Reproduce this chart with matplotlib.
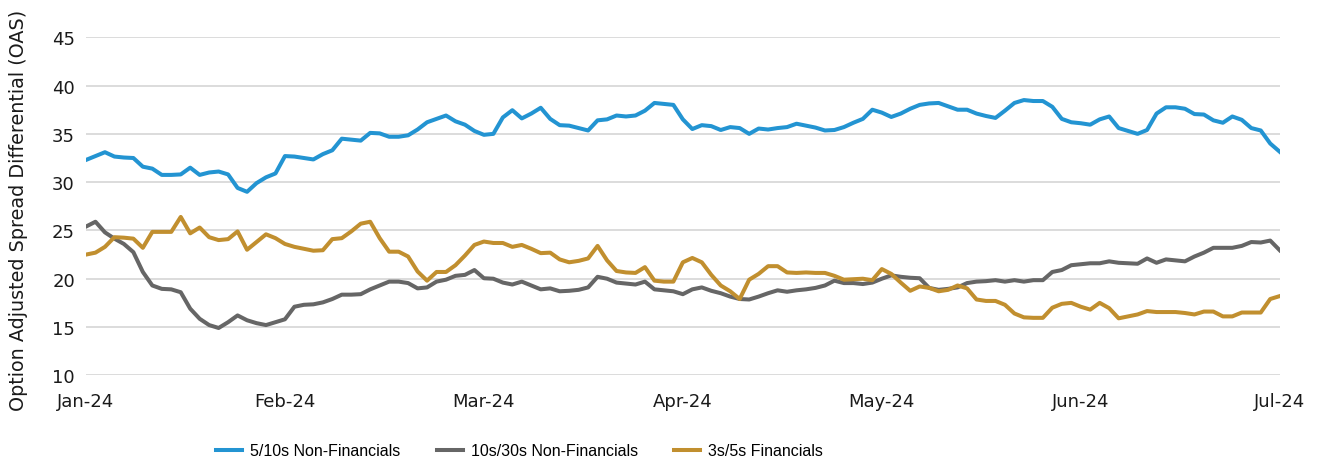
import numpy as np
import matplotlib
matplotlib.use('Agg')
import matplotlib.pyplot as plt

# meses (una etiqueta cada 21 dias habiles)
month_labels = ['Jan-24', 'Feb-24', 'Mar-24', 'Apr-24', 'May-24', 'Jun-24', 'Jul-24']
days_per_month = 21

nonfin_5_10 = [32.3, 32.7, 33.1, 32.65, 32.55, 32.5, 31.6, 31.4, 30.75, 30.75, 30.8, 31.5, 30.75, 31.0, 31.1, 30.8, 29.4, 29.0, 29.9, 30.5, 30.9, 32.7,
               32.65, 32.5, 32.35, 32.9, 33.3, 34.5, 34.4, 34.3, 35.1, 35.05, 34.7, 34.7, 34.85, 35.45, 36.2, 36.55, 36.9, 36.3, 35.95, 35.3, 34.9,
               35.0, 36.7, 37.45, 36.6, 37.1, 37.7, 36.55, 35.9, 35.85, 35.6, 35.35, 36.4, 36.5, 36.9, 36.8, 36.9, 37.4, 38.2, 38.1, 38.0, 36.5,
               35.5, 35.9, 35.8, 35.4, 35.7, 35.6, 35.0, 35.55, 35.45, 35.6, 35.7, 36.05, 35.85, 35.65, 35.35, 35.4, 35.7, 36.15, 36.55, 37.5, 37.2,
               36.75, 37.1, 37.6, 38.0, 38.15, 38.2, 37.85, 37.5, 37.5, 37.1, 36.85, 36.65, 37.4, 38.2, 38.5, 38.4, 38.4, 37.8, 36.55, 36.2, 36.1,
               35.95, 36.5, 36.8, 35.6, 35.3, 35.0, 35.4, 37.1, 37.75, 37.75, 37.6, 37.05, 37.0, 36.4, 36.15, 36.8, 36.45, 35.6, 35.35, 34.0, 33.15]

nonfin_10_30 = [25.4, 25.9, 24.8, 24.15, 23.6, 22.75, 20.7, 19.3, 18.95, 18.9, 18.6, 16.9, 15.85, 15.2, 14.9, 15.5, 16.2, 15.7, 15.4, 15.2, 15.5, 15.8,
                17.1, 17.3, 17.35, 17.55, 17.9, 18.35, 18.35, 18.4, 18.9, 19.3, 19.7, 19.7, 19.55, 19.0, 19.1, 19.7, 19.9, 20.3, 20.4, 20.9, 20.05,
                20.0, 19.6, 19.4, 19.7, 19.3, 18.9, 19.0, 18.7, 18.75, 18.85, 19.1, 20.2, 20.0, 19.6, 19.5, 19.4, 19.7, 18.9, 18.8, 18.7, 18.4,
                18.9, 19.1, 18.75, 18.5, 18.15, 17.9, 17.85, 18.15, 18.5, 18.8, 18.65, 18.8, 18.9, 19.05, 19.3, 19.8, 19.55, 19.55, 19.45, 19.6, 20.0,
                20.35, 20.2, 20.1, 20.05, 19.05, 18.85, 18.95, 19.1, 19.55, 19.7, 19.75, 19.85, 19.7, 19.85, 19.7, 19.85, 19.85, 20.7, 20.9, 21.4, 21.5,
                21.6, 21.6, 21.8, 21.65, 21.6, 21.55, 22.1, 21.65, 22.0, 21.9, 21.8, 22.3, 22.7, 23.2, 23.2, 23.2, 23.4, 23.8, 23.75, 23.95, 22.95]

fin_3_5 = [22.5, 22.7, 23.3, 24.3, 24.25, 24.15, 23.2, 24.85, 24.85, 24.85, 26.4, 24.7, 25.3, 24.3, 24.0, 24.1, 24.9, 23.0, 23.8, 24.6, 24.2, 23.6,
           23.3, 23.1, 22.9, 22.95, 24.1, 24.2, 24.9, 25.7, 25.9, 24.2, 22.8, 22.8, 22.3, 20.75, 19.8, 20.7, 20.7, 21.4, 22.4, 23.5, 23.85,
           23.7, 23.7, 23.3, 23.5, 23.1, 22.65, 22.7, 22.0, 21.7, 21.85, 22.1, 23.4, 21.9, 20.8, 20.65, 20.6, 21.2, 19.8, 19.7, 19.7, 21.7,
           22.15, 21.7, 20.4, 19.3, 18.7, 17.9, 19.9, 20.5, 21.3, 21.3, 20.65, 20.6, 20.65, 20.6, 20.6, 20.3, 19.9, 19.95, 20.0, 19.85, 21.0,
           20.5, 19.6, 18.75, 19.2, 19.05, 18.7, 18.85, 19.3, 19.0, 17.85, 17.7, 17.7, 17.3, 16.4, 16.0, 15.95, 15.95, 17.0, 17.4, 17.5, 17.1,
           16.8, 17.5, 16.95, 15.9, 16.1, 16.3, 16.65, 16.55, 16.55, 16.55, 16.45, 16.3, 16.6, 16.6, 16.1, 16.1, 16.5, 16.5, 16.5, 17.9, 18.2]

series_names = ['5/10s Non-Financials', '10s/30s Non-Financials', '3s/5s Financials']
colores = ['#2394d2', '#666666', '#c18f2f']

plt.rcParams['font.family'] = ['DejaVu Sans']

fig = plt.figure(figsize=(13.19, 4.64), dpi=100)
ax = fig.add_axes([0.0652, 0.189, 0.905, 0.7285])

x = np.arange(len(nonfin_5_10))
for vals, name, c in zip([nonfin_5_10, nonfin_10_30, fin_3_5], series_names, colores):
    ax.plot(x, vals, color=c, lw=2.9, label=name, solid_joinstyle='round')

ax.set_xlim(0, len(x) - 1)
ax.set_ylim(10, 45)
ax.set_yticks(range(10, 50, 5))
ax.set_xticks(np.arange(len(month_labels)) * days_per_month)
ax.set_xticklabels(month_labels)
ax.tick_params(axis='both', length=0, labelsize=13, colors='#1a1a1a')
ax.tick_params(axis='y', pad=8)
ax.tick_params(axis='x', pad=12)
ax.grid(axis='y', color='#d9d9d9', lw=1.3)
ax.set_axisbelow(True)
for s in ax.spines.values():
    s.set_visible(False)

ax.set_ylabel('Option Adjusted Spread Differential (OAS)', fontsize=13.8, color='#1a1a1a')
ax.yaxis.set_label_coords(-0.049, 0.49)

fig.legend(loc='center left', bbox_to_anchor=(208 / 1319, 0.026), ncol=3, frameon=False,
           borderpad=0, handlelength=1.63, handletextpad=0.52, columnspacing=2.25,
           prop={'family': 'Liberation Sans', 'size': 11.5})

plt.savefig('out.png', dpi=100)
